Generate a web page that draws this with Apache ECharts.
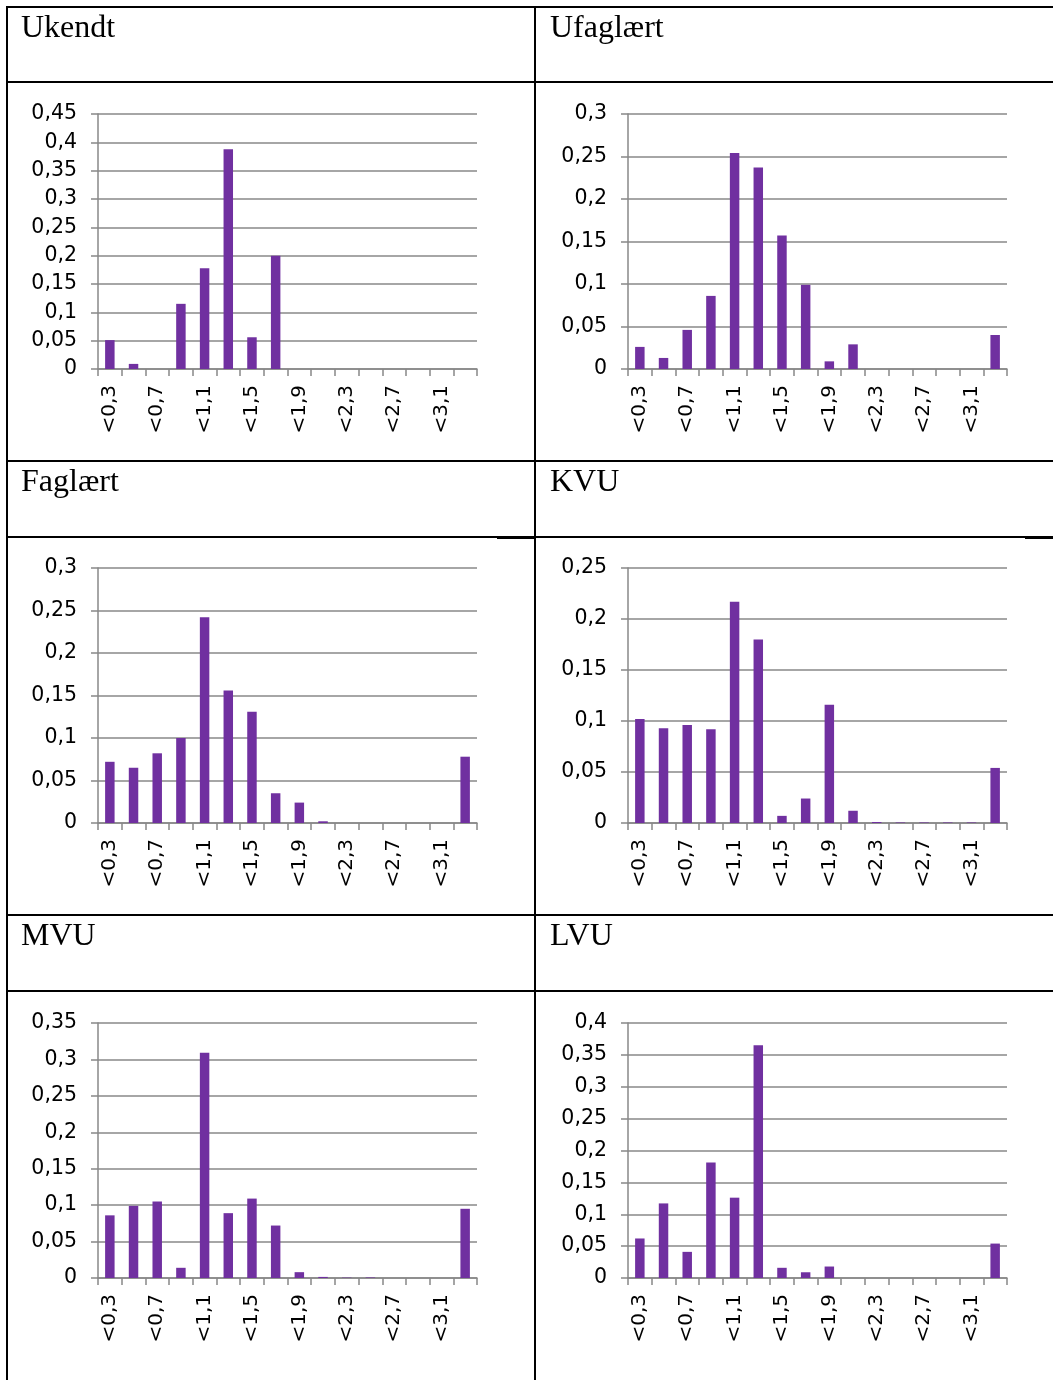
<!DOCTYPE html>
<html><head><meta charset="utf-8">
<script src="https://cdn.jsdelivr.net/npm/echarts@6/dist/echarts.min.js"></script>
<style>html,body{margin:0;padding:0;background:#fff}#c{width:1053px;height:1380px}</style>
</head><body><div id="c"></div>
<script>
// ---- data ----
const categories = ['<0,3','<0,5','<0,7','<0,9','<1,1','<1,3','<1,5','<1,7','<1,9','<2,1','<2,3','<2,5','<2,7','<2,9','<3,1','>3,1'];
const titles = ['Ukendt','Ufaglært','Faglært','KVU','MVU','LVU'];
const ukendt    = [0.051,0.009,0,0.115,0.178,0.388,0.056,0.200,0,0,0,0,0,0,0,0];
const ufaglaert = [0.026,0.013,0.046,0.086,0.254,0.237,0.157,0.099,0.009,0.029,0,0,0,0,0,0.040];
const faglaert  = [0.072,0.065,0.082,0.100,0.242,0.156,0.131,0.035,0.024,0.002,0,0,0,0,0,0.078];
const kvu       = [0.102,0.093,0.096,0.092,0.217,0.180,0.007,0.024,0.116,0.012,0.001,0.0005,0.0005,0.0005,0.0005,0.054];
const mvu       = [0.086,0.099,0.105,0.014,0.309,0.089,0.109,0.072,0.008,0.0015,0.0005,0.0007,0,0,0,0.095];
const lvu       = [0.062,0.117,0.041,0.181,0.126,0.365,0.016,0.009,0.018,0,0,0,0,0,0,0.054];
const yMax = [0.45,0.3,0.3,0.25,0.35,0.4];
const yStep = 0.05;
const seriesData = [ukendt, ufaglaert, faglaert, kvu, mvu, lvu];

// ---- layout ----
const colLeft = [98, 628];
const rowTop = [114, 568, 1023];
const plotW = 379, plotH = 255;
const titleTop = [13, 467, 921];
const gridColor = '#888888';
const labelFont = 'DejaVu Sans';

const grids = [], xAxes = [], yAxes = [], series = [], titleArr = [];
for (let i = 0; i < 6; i++) {
  const col = i % 2, row = Math.floor(i / 2);
  grids.push({left: colLeft[col], top: rowTop[row], width: plotW, height: plotH, containLabel: false});
  xAxes.push({
    type: 'category', gridIndex: i, data: categories,
    axisLine: {show: true, lineStyle: {color: gridColor, width: 1.5}},
    axisTick: {show: true, interval: 0, alignWithLabel: false, length: 7, lineStyle: {color: gridColor, width: 1.5}},
    axisLabel: {interval: 1, rotate: 90, margin: 16, color: '#000', fontFamily: labelFont, fontSize: 20},
    splitLine: {show: false}
  });
  yAxes.push({
    type: 'value', gridIndex: i, min: 0, max: yMax[i], interval: yStep,
    axisLine: {show: true, lineStyle: {color: gridColor, width: 1.5}},
    axisTick: {show: true, length: 7, lineStyle: {color: gridColor, width: 1.5}},
    axisLabel: {margin: 21, color: '#000', fontFamily: labelFont, fontSize: 20.5, padding: [4, 0, 0, 0],
      formatter: v => String(+v.toFixed(2)).replace('.', ',')},
    splitLine: {show: true, lineStyle: {color: gridColor, width: 1.7}}
  });
  series.push({
    type: 'bar', xAxisIndex: i, yAxisIndex: i, data: seriesData[i],
    barWidth: '40%', itemStyle: {color: '#7030A0'}, silent: true, animation: false
  });
  titleArr.push({
    text: titles[i], left: col === 0 ? 21 : 550, top: titleTop[row], padding: 0,
    textStyle: {fontFamily: 'Liberation Serif', fontSize: 32, fontWeight: 'normal', color: '#000'}
  });
}

// ---- table lines ----
const hLines = [7, 82, 461, 537, 915, 991];
const graphic = [];
hLines.forEach(y => graphic.push({type: 'line', shape: {x1: 6, y1: y, x2: 1053, y2: y}, style: {stroke: '#000', lineWidth: 2}}));
[7, 535].forEach(x => graphic.push({type: 'line', shape: {x1: x, y1: 6, x2: x, y2: 1380}, style: {stroke: '#000', lineWidth: 2}}));
graphic.push({type: 'line', shape: {x1: 497, y1: 538, x2: 535, y2: 538}, style: {stroke: '#000', lineWidth: 2}});
graphic.push({type: 'line', shape: {x1: 1025, y1: 538, x2: 1053, y2: 538}, style: {stroke: '#000', lineWidth: 2}});

const chart = echarts.init(document.getElementById('c'), null, {renderer: 'canvas'});
chart.setOption({
  animation: false,
  backgroundColor: '#fff',
  title: titleArr,
  grid: grids, xAxis: xAxes, yAxis: yAxes, series: series,
  graphic: graphic
});
</script>
</body></html>
